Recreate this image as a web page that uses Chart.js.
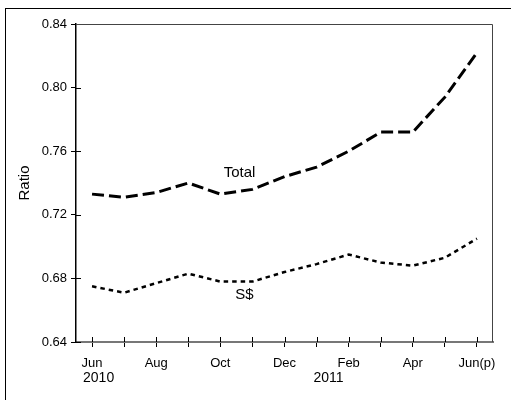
<!DOCTYPE html>
<html>
<head>
<meta charset="utf-8">
<script src="https://cdn.jsdelivr.net/npm/chart.js@4"></script>
<style>
  html, body { margin: 0; padding: 0; background: #fff; }
  #wrap { position: relative; width: 511px; height: 400px; }
  #frame { position: absolute; left: 5px; top: 8px; right: 0; bottom: 0; border-left: 1.5px solid #000; border-top: 1.5px solid #000; pointer-events: none; }
</style>
</head>
<body>
<div id="wrap">
  <canvas id="chart" width="511" height="400"></canvas>
  <div id="frame"></div>
</div>
<script>
const months = ["Jun", "Jul", "Aug", "Sep", "Oct", "Nov", "Dec", "Jan", "Feb", "Mar", "Apr", "May", "Jun(p)"];
const totalRatio = [0.733, 0.731, 0.734, 0.740, 0.733, 0.736, 0.744, 0.750, 0.760, 0.772, 0.772, 0.794, 0.822];
const sgdRatio = [0.675, 0.671, 0.677, 0.683, 0.678, 0.678, 0.684, 0.689, 0.695, 0.690, 0.688, 0.693, 0.705];
const yTicks = [0.64, 0.68, 0.72, 0.76, 0.80, 0.84];
const years = [{ text: "2010", at: 0, align: "left" }, { text: "2011", at: 7.37, align: "center" }];
const seriesLabels = [{ text: "Total", at: 4.6, value: 0.7465 }, { text: "S$", at: 4.75, value: 0.6695 }];

const font = "'Liberation Sans', Arial, sans-serif";

const extras = {
  id: "extras",
  afterDraw(chart) {
    const { ctx, scales: { x, y }, chartArea } = chart;
    ctx.save();
    // inner halves of the cross ticks
    ctx.strokeStyle = "#000";
    ctx.lineWidth = 1;
    ctx.beginPath();
    months.forEach((m, i) => {
      const px = Math.round(x.getPixelForValue(i)) + 0.5;
      ctx.moveTo(px, chartArea.bottom);
      ctx.lineTo(px, chartArea.bottom - 5);
    });
    yTicks.forEach((v) => {
      const py = Math.round(y.getPixelForValue(v)) + 0.5;
      ctx.moveTo(chartArea.left, py);
      ctx.lineTo(chartArea.left + 5, py);
    });
    ctx.stroke();
    // top and right frame
    ctx.strokeStyle = "#444";
    ctx.beginPath();
    ctx.moveTo(chartArea.left, chartArea.top + 0.5);
    ctx.lineTo(chartArea.right - 0.5, chartArea.top + 0.5);
    ctx.lineTo(chartArea.right - 0.5, chartArea.bottom);
    ctx.stroke();
    ctx.fillStyle = "#000";
    // y axis title
    ctx.save();
    ctx.font = "15px " + font;
    ctx.textAlign = "center";
    ctx.textBaseline = "middle";
    ctx.translate(25, 183);
    ctx.rotate(-Math.PI / 2);
    ctx.fillText("Ratio", 0, 0);
    ctx.restore();
    // year labels
    ctx.font = "14px " + font;
    ctx.textBaseline = "middle";
    years.forEach((yr) => {
      const px = x.getPixelForValue(yr.at);
      ctx.textAlign = yr.align;
      ctx.fillText(yr.text, yr.align === "left" ? px - 9 : px, 378);
    });
    // series labels
    ctx.font = "15px " + font;
    ctx.textAlign = "center";
    seriesLabels.forEach((s) => {
      ctx.fillText(s.text, x.getPixelForValue(s.at), y.getPixelForValue(s.value));
    });
    ctx.restore();
  },
};

new Chart(document.getElementById("chart"), {
  type: "line",
  data: {
    labels: months,
    datasets: [
      { label: "Total", data: totalRatio, borderColor: "#000", borderWidth: 3, borderDash: [12, 5], pointRadius: 0, tension: 0, fill: false },
      { label: "S$", data: sgdRatio, borderColor: "#000", borderWidth: 2.5, borderDash: [4.5, 4], pointRadius: 0, tension: 0, fill: false },
    ],
  },
  options: {
    responsive: false,
    animation: false,
    layout: { padding: { top: 24, right: 18, left: 0, bottom: 0 } },
    plugins: { legend: { display: false }, tooltip: { enabled: false } },
    scales: {
      x: {
        type: "category",
        offset: true,
        grid: { display: true, drawOnChartArea: false, drawTicks: true, tickLength: 5, color: "#000", offset: false },
        border: { color: "#777", width: 2 },
        ticks: {
          autoSkip: false,
          maxRotation: 0,
          color: "#000",
          padding: 9,
          font: { family: font, size: 13 },
          callback: (v, i) => (i % 2 === 0 ? months[i] : ""),
        },
        afterFit: (s) => { s.height = 58; },
      },
      y: {
        min: 0.64,
        max: 0.84,
        grid: { display: true, drawOnChartArea: false, drawTicks: true, tickLength: 5, color: "#000" },
        border: { color: "#000", width: 1.5 },
        afterBuildTicks: (s) => { s.ticks = yTicks.map((v) => ({ value: v })); },
        ticks: { color: "#000", padding: 4, font: { family: font, size: 13 }, callback: (v) => v.toFixed(2) },
        afterFit: (s) => { s.width = 76; },
      },
    },
  },
  plugins: [extras],
});
</script>
</body>
</html>
